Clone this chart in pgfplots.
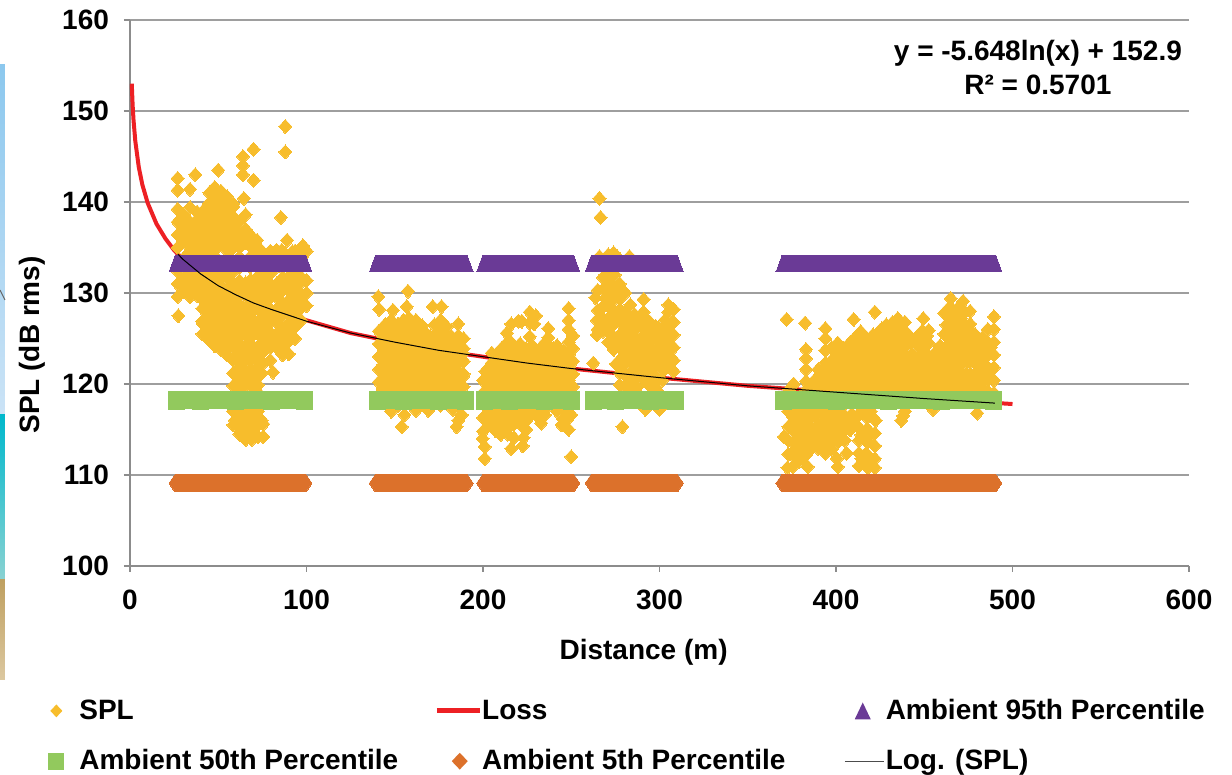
\documentclass[border=0pt]{standalone}
\usepackage{fontspec}
\setmainfont{Liberation Sans}
\usepackage{pgfplots}
\pgfplotsset{compat=1.18}
\definecolor{spl}{HTML}{F7BD2C}
\definecolor{pur}{HTML}{6A3A96}
\definecolor{grn}{HTML}{92C95D}
\definecolor{org}{HTML}{DC712B}
\definecolor{lossred}{HTML}{ED2024}
\newcommand{\lab}{\fontsize{14}{16}\bfseries\selectfont}
\begin{document}
\begin{tikzpicture}
\useasboundingbox (-65pt,-104.5pt) rectangle (551pt,283pt);
\definecolor{s1}{HTML}{8CC8EE}\definecolor{s2}{HTML}{CBE3F6}
\definecolor{s3}{HTML}{00B8CC}\definecolor{s4}{HTML}{8AD2D2}
\definecolor{s5}{HTML}{BFA060}\definecolor{s6}{HTML}{DCC8A0}
\shade[top color=s1,bottom color=s2] (-65pt,250.5pt) rectangle (-62.5pt,75.5pt);
\shade[top color=s3,bottom color=s4] (-65pt,75.5pt) rectangle (-62.5pt,-7pt);
\shade[top color=s5,bottom color=s6] (-65pt,-7pt) rectangle (-62.5pt,-57pt);
\draw[black!60,line width=0.5pt] (-65pt,138pt)--(-62.5pt,133pt);
\begin{axis}[
  at={(0,0)}, anchor=south west,
  scale only axis, width=529.5pt, height=273pt,
  clip mode=individual,
  xmin=0, xmax=600, ymin=100, ymax=160,
  xtick={0,100,200,300,400,500,600},
  ytick={100,110,120,130,140,150,160},
  axis x line*=bottom, axis y line*=left,
  axis line style={color=black!45, -, line width=0.8pt},
  tick style={color=black!45, line width=0.8pt},
  tick align=outside, major tick length=3pt,
  ymajorgrids,
  grid style={color=black!38, line width=0.7pt},
  tick label style={font=\lab, /pgf/number format/assume math mode=true},
  xticklabel style={yshift=-5.5pt},
  yticklabel style={xshift=-4pt},
  label style={font=\lab},
  xlabel={Distance (m)},
  ylabel={SPL (dB rms)},
  xlabel style={at={(axis description cs:0.485,-0.158)}, anchor=center},
  ylabel style={at={(axis description cs:-0.0925,0.405)}, anchor=center},
  unbounded coords=jump,
  legend columns=3,
  legend cell align=left,
  legend style={at={(axis description cs:-0.0803,-0.2433)}, anchor=north west, draw=none, fill=none,
    inner sep=0pt, row sep=13.5pt,
    nodes={inner sep=0pt, font=\lab}},
]
% Loss (under the SPL cloud)
\addplot[forget plot, color=lossred, line width=2pt, line join=round] coordinates {
(1,153)(1.5,150.6)(2,149)(3,146.7)(5,143.8)(7,141.9)(10,139.9)(15,137.6)(20,136)(25,134.7)(30,133.7)(40,132.1)(50,130.8)(60,129.8)(70,128.9)(80,128.2)(100,127)(125,125.6)(150,124.6)(175,123.7)(200,123)(225,122.3)(250,121.7)(275,121.2)(300,120.7)(350,119.8)(400,119.1)(450,118.4)(500,117.8)};
% SPL: core of the dense clouds
\addplot[forget plot, only marks, mark=diamond*, mark size=6pt, mark options={xscale=1.24, draw=spl, fill=spl, line width=0pt}] coordinates {
(32,131)(32,133.6)(32,136.2)
(38,130.3)(38,132.3)(38,134.9)(38,137.5)
(44,126.6)(44,129.2)(44,131.8)(44,134.4)(44,137)(44,139)
(50,125.3)(50,127.9)(50,130.5)(50,133.1)(50,135.7)(50,138.3)(50,140.3)
(56,124.6)(56,127.2)(56,129.8)(56,132.4)(56,135)(56,137.6)(56,139.5)
(62,116)(62,118.6)(62,121.2)(62,123)(62,125.6)(62,128.2)(62,130.8)(62,133.4)(62,136)
(68,115.2)(68,117.8)(68,120.4)(68,123)(68,125.6)(68,128.2)(68,130.8)(68,133.4)(68,135.8)
(72,116)(72,118.6)(72,121.2)
(74,123.8)(74,126.4)(74,129)(74,131.6)(74,134.2)
(80,125)(80,127.6)(80,130.2)(80,132.8)
(86,125.6)(86,128.2)(86,130.8)(86,133.4)
(92,126.5)(92,129.1)(92,131.7)(92,134)
(95,129)(95,131.6)(95,134)
(146,119.5)(146,122.1)(146,124.7)
(152,118.2)(152,120.8)(152,123.4)(152,126)
(158,119.5)(158,122.1)(158,124.7)(158,126.7)
(164,118.2)(164,120.8)(164,123.4)(164,125.8)
(170,119.5)(170,122.1)(170,124.7)
(176,118.2)(176,120.8)(176,123.4)(176,125.6)
(182,119.5)(182,122.1)(182,124.7)
(186,118.2)(186,120.8)(186,123.4)
(204,116.2)(204,118.8)(204,121.4)
(210,115)(210,117.5)(210,120.1)(210,122.7)
(216,116.2)(216,118.8)(216,121.4)(216,124)
(222,116)(222,117.5)(222,120.1)(222,122.7)
(228,117.6)(228,118.8)(228,121.4)(228,123.5)
(234,117.5)(234,120.1)(234,122.7)
(240,118.8)(240,121.4)(240,123.4)
(246,117.5)(246,120.1)(246,122.7)
(272,132)(272,129.4)(272,126.8)
(278,130)(278,127.4)(278,124.8)(278,122.2)
(284,126)(284,123.4)(284,120.8)
(290,127.1)(290,124.5)(290,121.9)
(296,125.8)(296,123.2)(296,120.6)
(302,124.6)(302,122)
(303.5,125.5)(303.5,122.9)
(378,112.5)(378,115.1)(378,117.7)
(384,113.8)(384,116.4)(384,119)
(390,115)(390,117.7)(390,120.3)
(396,113.8)(396,116.4)(396,119)(396,121.6)
(402,115)(402,117.7)(402,120.3)(402,122.9)
(408,115.5)(408,119)(408,121.6)(408,124)
(414,120.3)(414,122.9)(414,125.2)
(417,111.8)(417,114.4)(417,117)
(420,119)(420,121.6)(420,124.2)
(426,120.3)(426,122.9)(426,125.5)
(432,119)(432,121.6)(432,124.2)(432,126.2)
(438,120.3)(438,122.9)(438,125.5)
(444,119)(444,121.6)
(449,125.3)
(450,120.3)(450,122.9)
(456,119.2)(456,121.6)
(462,120.3)(462,122.9)
(464,125.5)(464,127.8)
(468,119.6)(468,122)(468,124.6)(468,127.2)
(470,128)
(474,120.6)(474,123.2)(474,125.8)
(478,124.5)
(480,120.2)(480,122.8)
(484,124)
(485,121.5)(485,124)
};
% SPL
\addplot[forget plot, only marks, mark=diamond*, mark size=3.5pt, mark options={xscale=1.24, draw=spl, fill=spl, line width=0pt}] coordinates {
(27.4,127.5)(27,129.6)(27,131)(27,132.4)(27,135)(27,136.4)(27,137.8)(27,139.2)(27,141.3)(27,142.6)
(30.5,130.2)(30.5,131.6)(30.5,135.7)(30.5,137.1)(30.5,138.5)
(34,129.6)(34,131)(34,135)(34,136.4)(34,137.8)(34,139.4)(34,141.4)(37,143)
(37.5,130.2)(37.5,131.6)(37.5,135.7)(37.5,137.1)(38,138.9)
(41,125.5)(41,126.9)(41,128.3)(41,129.7)(41,131.1)(41,135)(41,136.4)(41,137.8)
(44.5,124.9)(44.5,126.3)(44.5,127.7)(44.5,129.1)(44.5,130.5)(44.5,131.9)(44.5,135.6)(44.5,137)(44.5,138.4)(44.5,139.8)(45,141)
(48,124.2)(48,125.6)(48,127)(48,128.4)(48,129.8)(48,131.2)(48,135)(48,136.4)(48,137.8)(48,139.2)(48,140.6)(48,141.6)(50,143.5)
(51.5,123.8)(51.5,125.2)(51.5,126.6)(51.5,128)(51.5,129.4)(51.5,130.8)(51.5,132.2)(51.5,135.6)(51.5,137)(51.5,138.4)(51.5,139.8)(51.5,141.2)
(55,123.2)(55,124.6)(55,126)(55,127.4)(55,128.8)(55,130.2)(55,131.6)(55,135)(55,136.4)(55,137.8)(55,139.2)(55,140.6)
(58.5,115.5)(58.5,117)(58.5,119.8)(58.5,121.2)(58.5,122.6)(58.5,124)(58.5,125.4)(58.5,126.8)(58.5,128.2)(58.5,129.6)(58.5,131)(58.5,135.6)(58.5,137)(58.5,138.4)(58.5,139.8)
(62,114.5)(62,115.9)(62,117.3)(62,120.1)(62,121.5)(62,122.9)(62,124.3)(62,125.7)(62,127.1)(62,128.5)(62,129.9)(62,131.3)(62,135)(62,136.4)(62,137.8)
(64,145)(64,144)(64,143)(64.5,140.4)
(65.5,113.9)(65.5,115.3)(65.5,116.7)(65.5,119.9)(65.5,121.3)(65.5,122.7)(65.5,124.1)(65.5,125.5)(65.5,126.9)(65.5,128.3)(65.5,129.7)(65.5,131.1)(65.5,135.6)(65.5,137)(65.5,138.6)
(69,113.9)(69,115.3)(69,116.7)(69,120.1)(69,121.5)(69,122.9)(69,124.3)(69,125.7)(69,127.1)(69,128.5)(69,129.9)(69,131.3)(69,135)(69,136.2)(70,145.8)(70,142.4)
(72.5,114.2)(72.5,115.6)(72.5,117)(72.5,119.9)(72.5,121.3)(72.5,122.7)(72.5,124.1)(72.5,125.5)(72.5,126.9)(72.5,128.3)(72.5,129.7)(72.5,131.1)(72.5,135)
(75.5,114.2)(75.5,115.6)(75.5,122.3)(75.5,123.7)(75.5,125.1)(75.5,126.5)(75.5,127.9)(75.5,129.3)(75.5,130.7)(75.5,132.1)(72,135.8)
(79.5,122.6)(79.5,124)(79.5,125.4)(79.5,126.8)(79.5,128.2)(79.5,129.6)(79.5,131)(79.5,134.6)(81,121.3)
(83,124)(83,125.4)(83,126.8)(83,128.2)(83,129.6)(83,131)(83,134.7)
(86.5,123.2)(86.5,124.7)(86.5,126.1)(86.5,127.5)(86.5,128.9)(86.5,130.3)(86.5,131.7)(85.5,138.3)(86,134.7)
(90,123.3)(90,124.8)(90,126.2)(90,127.6)(90,129)(90,130.4)(90,131.8)(89,135.8)(88,145.5)(88,148.3)(88.5,124.4)
(93.5,125)(93.5,126.4)(93.5,127.8)(93.5,129.2)(93.5,130.6)(93.5,132)(93.5,134.6)
(97,127)(97,128.4)(97,129.8)(97,131.2)(98,134.9)(98,135.2)
(100,128.6)(100,130)(100,131.4)(100,134.6)
% blob 2
(141,118.8)(141,120.2)(141,121.6)(141,123)(141,124.4)(141,125.8)(140.7,129.6)(141.2,128.2)
(144.5,119.5)(144.5,120.9)(144.5,122.3)(144.5,123.7)(144.5,125.1)(144.5,126.5)
(148,117)(148,118.8)(148,120.2)(148,121.6)(148,123)(148,124.4)(148,125.8)(149,128.1)(148,127)
(151.5,119.5)(151.5,120.9)(151.5,122.3)(151.5,123.7)(151.5,125.1)(151.5,126.5)
(155,118.8)(155,120.2)(155,121.6)(155,123)(155,124.4)(155,125.8)(155,127)(154,115.3)(155.5,116.6)
(157.5,130.2)(156.8,128.5)(158.5,119.5)(158.5,120.9)(158.5,122.3)(158.5,123.7)(158.5,125.1)(158.5,126.5)
(162,117.1)(162,118.8)(162,120.2)(162,121.6)(162,123)(162,124.4)(162,125.8)(162,127)
(165.5,119.5)(165.5,120.9)(165.5,122.3)(165.5,123.7)(165.5,125.1)(165.5,126.4)
(169,117.1)(169,118.8)(169,120.2)(169,121.6)(169,123)(169,124.4)(171.5,128.5)
(172.5,119.5)(172.5,120.9)(172.5,122.3)(172.5,123.7)(172.5,125.1)(172.5,126.5)(176.5,128.5)
(176,118.8)(176,120.2)(176,121.6)(176,123)(176,124.4)(176,125.8)(176,127)
(179.5,119.5)(179.5,120.9)(179.5,122.3)(179.5,123.7)(179.5,125.1)(179.5,126.3)(185,115.3)(186,116)(188,116.6)
(183,118.8)(183,120.2)(183,121.6)(183,123)(183,124.4)(186,126.6)(186,125.3)(183,117.2)
(186.5,119.5)(186.5,120.9)(186.5,122.3)(186.5,123.7)(189,125)(189,123.9)(189,122.5)(189,121.1)(189,119.7)
% blob 3
(200,114.8)(200,116.3)(200,119)(200,120.4)(201,111.8)(201,113.1)(199.8,114)
(203.5,115.6)(203.5,117)(203.5,119.7)(203.5,121.1)(205,123.4)(205,122.3)
(207,114.9)(207,116.3)(207,119)(207,120.4)(207,121.8)(207,123)
(210.5,115.6)(210.5,117)(210.5,119.7)(210.5,121.1)(210.5,122.5)(210.5,123.9)
(214,114.5)(214,115.9)(214,117.3)(214,119)(214,120.4)(214,121.8)(214,123.2)(214,124.6)(213.5,125.6)
(216,126.6)(216,112.9)(217.5,115.6)(217.5,117)(217.5,119.7)(217.5,121.1)(217.5,122.5)(217.5,123.9)(217.5,114.1)
(221,116.3)(221,119)(221,120.4)(221,121.8)(221,123.2)(221,124.4)(220,126.9)(222,126.9)(223,114.1)(222.5,113.2)(224.5,115)
(224.5,116.6)(224.5,119.7)(224.5,121.1)(224.5,122.5)(224.5,123.9)(226.5,127.9)(226.5,126.7)(226.5,125.2)
(228,116.8)(228,119)(228,120.4)(228,121.8)(228,123.2)(228,124.2)(229,126.6)(230,127.5)
(231.5,116.3)(231.5,119.7)(231.5,121.1)(231.5,122.5)(231.5,123.7)(233,115.7)
(235,116.6)(235,119)(235,120.4)(235,121.8)(235,123.2)(235,124.5)
(238.5,119.7)(238.5,121.1)(238.5,122.5)(238.5,123.9)(237,125.1)(237,126.1)
(242,117)(242,119)(242,120.4)(242,121.8)(242,123.2)(242,124.2)
(245.5,116.1)(245.5,119.7)(245.5,121.1)(245.5,122.5)(245.5,123.6)(244.5,115.5)
(248.5,115)(248.5,116.3)(248.5,119)(248.5,120.4)(248.5,121.8)(248.5,123.2)(248.5,124.6)(248.5,126)(248.5,127)(248.5,128.3)(250,116.6)(250,112)
(251,119.7)(251,121.1)(251,122.5)(251,123.9)(251,125.3)
% blob 4
(265,126)(264.5,125.4)(262.5,122.3)(265,128.1)(265,130.3)(263.7,129.5)(264.5,127)
(266,140.4)(266.6,138.3)(268,131.7)(268,130.4)(268,128.5)(268,127.2)(268,125.8)(266,134)
(271,134.2)(271,131.4)(271,130)(271,128.6)(271,127.2)(271,125.8)(271,124.6)
(274,134.4)(274,130.8)(274,129.4)(274,128)(274,126.6)(274,125.2)(274,123.8)(276,134)
(277.5,131)(277.5,129.6)(277.5,128.2)(277.5,126.8)(277.5,125.4)(277.5,124)(277.5,122.6)(277.5,121.2)(277.5,119.9)
(279,115.3)(280.5,128)(280.5,126.6)(280.5,125.2)(280.5,123.8)(280.5,122.4)(280.5,121)(280.5,119.7)
(283.5,128.7)(283.5,127.3)(283.5,125.9)(283.5,124.5)(283.5,123.1)(283.5,120.6)(283.5,119.5)
(286,127.6)(287,125)(287,123.6)(287,122.2)(287,120.8)(287,119.6)(283,134)
(291,129.3)(291,127.9)(291,126.5)(291,125.1)(291,123.7)(291,122.3)(291,120.4)(290,118.5)(292,117.2)
(294.5,126.8)(294.5,125.4)(294.5,124)(294.5,122.6)(294.5,121.2)(294.5,119.8)
(298,126.3)(298,124.9)(298,123.5)(298,122.1)(298,120.7)(299,119.2)(301,117.4)(300,117.2)
(301.5,126)(301.5,124.6)(301.5,123.2)(301.5,121.8)(301.5,120.4)
(305,127.9)(305,128.7)(305,126.5)(305,125.1)(305,123.7)(305,122.3)(303,127)
(308,128.2)(308,126.8)(308,125.4)(308,124)(308,122.6)(308,121.4)
% blob 5
(372,127.1)(373,117)(373,115.3)(373,113.8)(373,112.3)(372.5,110.8)(370.5,114.2)
(375.5,116.4)(375.5,115)(375.5,113.6)(375.5,112.2)(375.5,110.9)(373.5,119.4)(376,120)
(379,117.1)(379,115.7)(379,114.3)(379,112.9)(379,111.5)
(382.5,126.7)(383,123.8)(383,122.8)(383,121.6)(383,120.3)(383,116.4)(383,115)(383,113.6)(383,112.2)(384,110.9)
(386,119.9)(386,118.5)(386,116.5)(386,115.1)(386,113.7)(386,112.9)
(390,120.4)(390,121.6)(390,116.8)(390,115.4)(390,114)(390,112.9)
(394,126.1)(394,125)(394,123.7)(394,122.3)(394,120.9)(394,119.5)(394,116.4)(394,115)(394,113.6)(394,112.4)
(397.5,124)(397.5,122.6)(397.5,121.2)(397.5,119.8)(397.5,117)(397.5,115.6)(397.5,114.2)(397.5,112.8)
(401,124.5)(401,123.1)(401,121.7)(401,120.3)(401,116.4)(401,115)(401,113.6)(401,110.9)(400.5,111.8)
(404.5,123.9)(404.5,122.5)(404.5,121.1)(404.5,119.7)(404.5,116.6)(404.5,115.2)(405,113.8)(406,112.4)
(410,127.1)(409,124.3)(409,122.9)(409,121.5)(409,120.1)(409,116.7)(409,115.3)
(413,123.8)(413,122.4)(413,121)(413,119.6)(413,116.6)(413,115.2)(413,113.8)(413,112.4)(413,111)
(417,124.5)(417,123.1)(417,121.7)(417,120.3)(418,116.4)(418,115)(418,113.6)(418,112.2)(418,110.8)(419.5,117)
(422,127.9)(421,125.4)(421,124)(421,122.6)(421,121.2)(421,119.8)(422.5,116)(422,114.6)(422,113.2)(422,111.8)(422,110.8)
(425,125.9)(425,124.5)(425,123.1)(425,121.7)(425,120.3)(425,118.9)
(428.5,126.5)(428.5,125.1)(428.5,123.7)(428.5,122.3)(428.5,120.9)(428.5,119.5)
(432,126.7)(432,125.3)(432,123.9)(432,122.5)(432,121.1)(432,119.7)
(435,127.2)(435,125.8)(435,124.4)(435,123)(435,121.6)(435,120.2)(438,116.5)(437,116)(439,117)
(439,126.8)(439,125.4)(439,124)(439,122.6)(439,121.2)(439,119.8)
(443,124.6)(443,123.2)(443,121.8)(443,120.4)(443,119)
(447,124)(447,122.6)(447,121.2)(447,119.8)
(450,125.4)(450,124.2)(450,122.8)(450,121.4)(450,120)
(449.5,127.2)(452.5,125.9)(452.5,124.5)(452.5,123.1)(452.5,121.7)(452.5,120.3)
(456,123.4)(456,122)(456,120.6)(454,119.6)(455,117.2)
(459,124.2)(459,122.8)(459,121.4)(459,120)(460,118.9)
(462.5,126.5)(462.5,125.3)(462.5,123.9)(462.5,122.5)(462.5,121.1)(462.5,119.6)
(465,129.4)(466,128.2)(466,126.8)(466,125.4)(466,124)(466,122.6)(465,121.2)
(469,127.6)(469,126.2)(469,124.8)(469,123.4)(469,120.2)
(472,129.1)(472,127.7)(472,126.3)(472,124.9)(472,123.5)(472,119.9)(472,121)
(476,128)(476,126.6)(476,125.2)(476,123.8)(476,122.4)(476,121)(476,119.6)
(479,125.4)(479,124)(479,122.6)(479,121.2)(479,119.8)(480,116.8)
(483,125.1)(483,123.7)(483,122.3)(483,120.9)(483,119.5)
(486,126)(486,124.6)(486,123.2)(486,121.8)(486,120.4)(486,119.2)
(489.5,127.4)(489.5,126)(489.5,124.6)(489.5,123.2)(489.5,121.8)(489.5,120.4)(489.5,119)
};
% Ambient 95th
\addplot[forget plot, color=pur, line width=8.5pt, mark=triangle*, mark size=5.5pt, mark options={xscale=0.63, yshift=-1.3pt, draw=pur, fill=pur, line width=0pt}] coordinates {
(25.5,133.2)(40,133.2)(60,133.2)(80,133.2)(99.7,133.2)(110,nan)
(139,133.2)(155,133.2)(175,133.2)(191.1,133.2)(195,nan)
(199.8,133.2)(215,133.2)(235,133.2)(251.5,133.2)(255,nan)
(261.3,133.2)(275,133.2)(295,133.2)(310.2,133.2)(340,nan)
(369.4,133.2)(400,133.2)(430,133.2)(460,133.2)(490.6,133.2)};
% Ambient 50th
\addplot[forget plot, color=grn, line width=9pt, mark=square*, mark size=4pt, mark options={draw=grn, fill=grn, line width=0pt, yscale=1.1}] coordinates {
(26.6,118.2)(40,118.2)(60,118.2)(80,118.2)(98.6,118.2)(110,nan)
(140.1,118.2)(155,118.2)(175,118.2)(190,118.2)(195,nan)
(200.9,118.2)(215,118.2)(235,118.2)(250.4,118.2)(255,nan)
(262.4,118.2)(275,118.2)(295,118.2)(309.1,118.2)(340,nan)
(370.5,118.2)(400,118.2)(430,118.2)(460,118.2)(489.5,118.2)};
% Ambient 5th
\addplot[forget plot, color=org, line width=9pt, mark=diamond*, mark size=4.4pt, mark options={xscale=0.91, draw=org, fill=org, line width=0pt}] coordinates {
(25.5,109.1)(40,109.1)(60,109.1)(80,109.1)(99.7,109.1)(110,nan)
(139,109.1)(155,109.1)(175,109.1)(191.1,109.1)(195,nan)
(199.8,109.1)(215,109.1)(235,109.1)(251.5,109.1)(255,nan)
(261.3,109.1)(275,109.1)(295,109.1)(310.2,109.1)(340,nan)
(369.4,109.1)(400,109.1)(430,109.1)(460,109.1)(490.6,109.1)};
% Log. (SPL)
\addplot[forget plot, color=black, line width=0.5pt] coordinates {
(27,134.3)(30,133.7)(40,132.1)(50,130.8)(60,129.8)(70,128.9)(80,128.2)(100,126.9)(125,125.6)(150,124.6)(175,123.7)(200,123)(225,122.3)(250,121.7)(275,121.2)(300,120.7)(350,119.8)(400,119.1)(450,118.4)(490,117.9)};
% legend
\addlegendimage{legend image code/.code={\path[draw=none,fill=none] (0pt,-1pt) rectangle (17pt,1pt); \fill[spl,draw=none] (5.5pt,3.2pt)--(8.5pt,0pt)--(5.5pt,-3.2pt)--(2.5pt,0pt)--cycle;}}
\addlegendentry{\makebox[177.5pt][l]{SPL}}
\addlegendimage{legend image code/.code={\path[draw=none,fill=none] (0pt,-1pt) rectangle (20.5pt,1pt); \draw[lossred,line width=2.4pt] (0pt,0pt)--(21.5pt,0pt);}}
\addlegendentry{\makebox[181pt][l]{Loss}}
\addlegendimage{legend image code/.code={\path[draw=none,fill=none] (0pt,-1pt) rectangle (20.5pt,1pt); \fill[pur,draw=none] (9pt,4.2pt)--(13pt,-4.2pt)--(5pt,-4.2pt)--cycle;}}
\addlegendentry{Ambient 95th Percentile}
\addlegendimage{legend image code/.code={\path[draw=none,fill=none] (0pt,-1pt) rectangle (17pt,1pt); \fill[grn,draw=none] (1.5pt,4.2pt) rectangle (9.5pt,-4.2pt);}}
\addlegendentry{\makebox[177.5pt][l]{Ambient 50th Percentile}}
\addlegendimage{legend image code/.code={\path[draw=none,fill=none] (0pt,-1pt) rectangle (20.5pt,1pt); \fill[org,draw=none] (11.5pt,4.2pt)--(15.5pt,0pt)--(11.5pt,-4.2pt)--(7.5pt,0pt)--cycle;}}
\addlegendentry{\makebox[181pt][l]{Ambient 5th Percentile}}
\addlegendimage{legend image code/.code={\path[draw=none,fill=none] (0pt,-1pt) rectangle (20.5pt,1pt); \draw[black!70,line width=0.6pt] (0pt,0pt)--(19.5pt,0pt);}}
\addlegendentry{Log. (SPL)}
\node[font=\lab, anchor=center] at (axis cs:514.4,156.4) {y = -5.648ln(x) + 152.9};
\node[font=\lab, anchor=center] at (axis cs:514.4,152.9) {R² = 0.5701};
\end{axis}
\end{tikzpicture}
\end{document}
